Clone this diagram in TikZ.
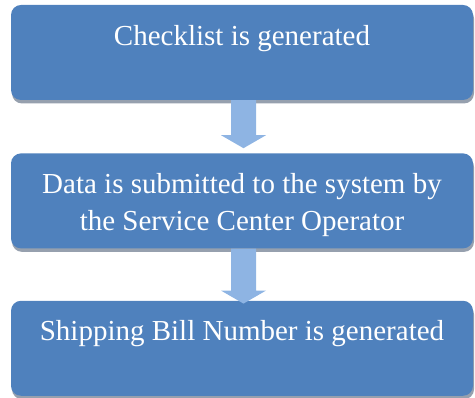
\documentclass[tikz,border=0pt]{standalone}
\usepackage{fontspec}
\setmainfont{Liberation Serif}
\usetikzlibrary{positioning,shadows,calc}
\definecolor{cajaazul}{RGB}{79,129,189}
\definecolor{flechaazul}{RGB}{142,180,227}
\definecolor{sombragris}{RGB}{150,160,174}

\begin{document}
\begin{tikzpicture}
 \tikzset{main node/.style={rectangle, fill=cajaazul, rounded corners=10pt,
 		minimum width=462pt, minimum height=95pt,
 		drop shadow={shadow xshift=1pt, shadow yshift=-3.5pt, fill=sombragris, opacity=1}}, }
 \tikzset{texto node/.style={anchor=north, inner sep=0pt, text=white, align=center,
 		font=\fontsize{29pt}{37pt}\selectfont, yshift=-20pt}, }
 \tikzset{linea/.style={fill=flechaazul, to path={let \p1=(\tikztostart), \p2=(\tikztotarget) in
 		(\x1-12.5pt,\y1) -- (\x1+12.5pt,\y1) -- (\x1+12.5pt,\y2+13pt) -- (\x1+22.5pt,\y2+13pt)
 		-- (\x1,\y2) -- (\x1-22.5pt,\y2+13pt) -- (\x1-12.5pt,\y2+13pt) -- cycle}},}
 \useasboundingbox (0,0) rectangle (475pt,398pt);
 \node[main node] (1) at (242pt,345.5pt) {};
 \node[main node] (2)[below=53pt of 1] {};
 \node[main node] (3)[below=52pt of 2] {};

 \node[texto node] (t1) at (1.north) {Checklist is generated};
 \node[texto node] (t2) at (2.north) {Data is submitted to the system by\\the Service Center Operator};
 \node[texto node] (t3) at (3.north) {Shipping Bill Number is generated};
 \foreach \x /\y /\d in{1/2/5pt,2/3/-3pt}
 \path[linea] ($(\x.south)+(1.5pt,0)$) to ($(\y.north)+(1.5pt,\d)$);
% %%
\end{tikzpicture}
\end{document}
